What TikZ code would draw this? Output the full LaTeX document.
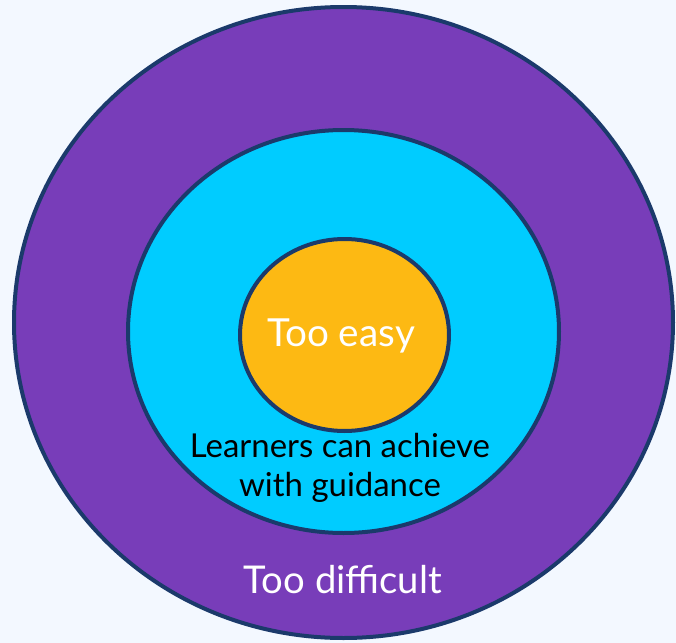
\documentclass[tikz,border=0pt]{standalone}
\usepackage{fontspec}
\setmainfont{Lato}
\usepackage{tikz}

\definecolor{bgpale}{RGB}{243,248,255}
\definecolor{zonepurple}{RGB}{120,61,185}
\definecolor{zonecyan}{RGB}{0,204,255}
\definecolor{zoneorange}{RGB}{253,185,19}
\definecolor{rimnavy}{RGB}{27,58,107}

\begin{document}
\begin{tikzpicture}[x=0.75pt,y=0.75pt,yscale=-1,xscale=1]
%Shape: Rectangle [id:background]
\fill [bgpale] (0,0) rectangle (676,643) ;
\useasboundingbox (0,0) rectangle (676,643) ;

%Shape: Ellipse [id:outer]
\draw  [draw=rimnavy, line width=3pt, fill=zonepurple] (343.5,322.5) ellipse (329.5 and 315.5) ;
%Shape: Ellipse [id:middle]
\draw  [draw=rimnavy, line width=3pt, fill=zonecyan] (343.5,331.5) ellipse (215.5 and 201.5) ;
%Shape: Ellipse [id:inner]
\draw  [draw=rimnavy, line width=3pt, fill=zoneorange] (344.5,335) ellipse (104.5 and 96) ;

% Text Node
\draw (341,336) node [inner sep=0.75pt, text=white, font=\fontsize{29}{34}\selectfont] (easy)   {Too easy};
% Text Node
\draw (340,468) node [inner sep=0.75pt, align=center, text=black, font=\fontsize{24.7}{29}\selectfont] (guided)   {Learners can achieve\\with guidance};
% Text Node
\draw (343,580) node [inner sep=0.75pt, text=white, font=\fontsize{28.7}{34}\selectfont] (hard)   {Too difficult};

\end{tikzpicture}
\end{document}
